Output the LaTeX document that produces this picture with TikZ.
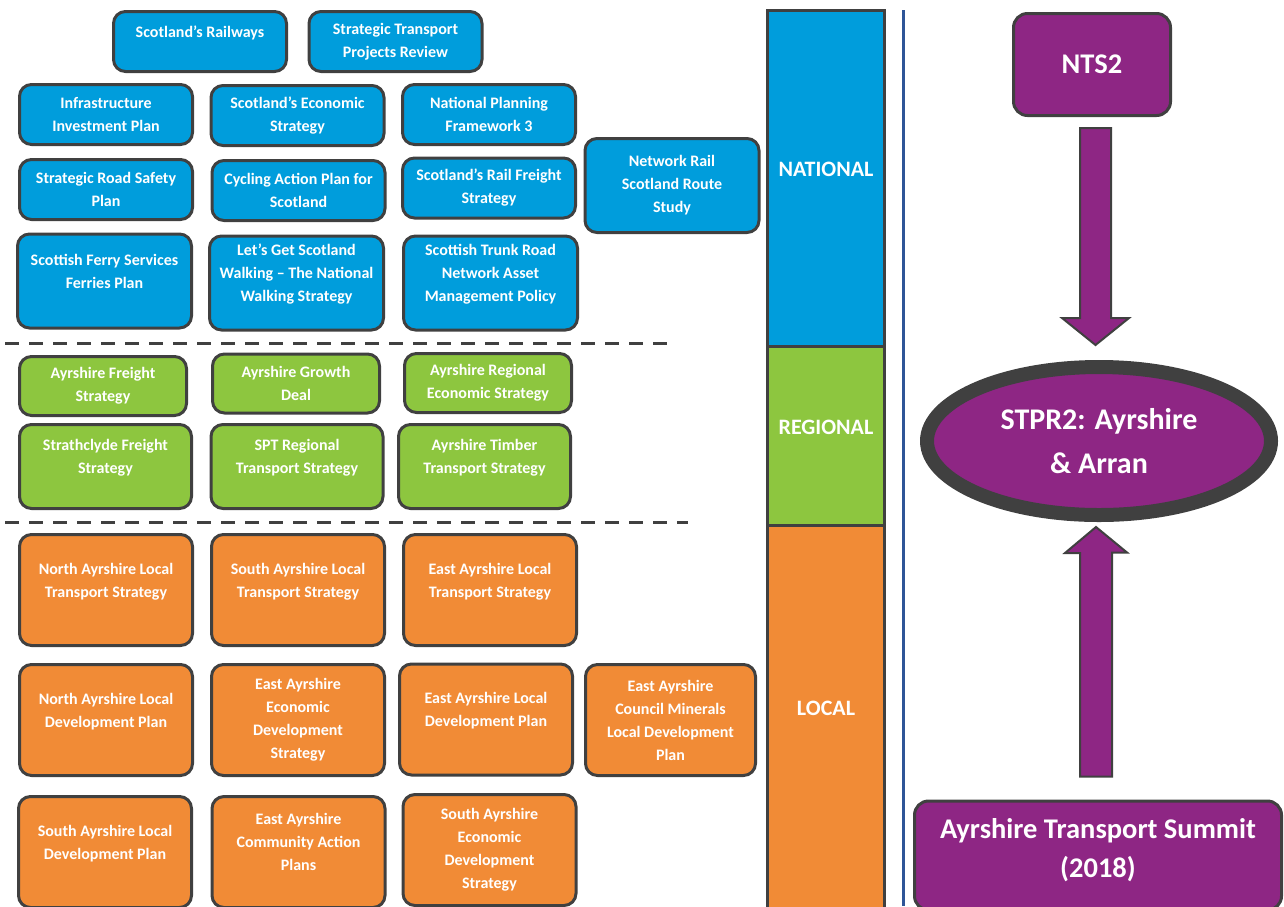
\documentclass[tikz,border=0pt]{standalone}
\usepackage{fontspec}
\setmainfont{Carlito}
\usepackage{tikz}
\usetikzlibrary{calc, shapes.geometric}

\definecolor{natblue}{RGB}{0,157,220}
\definecolor{reggreen}{RGB}{141,198,63}
\definecolor{locorange}{RGB}{241,139,54}
\definecolor{stprpurple}{RGB}{142,38,132}
\definecolor{edgegray}{RGB}{64,64,64}
\definecolor{splitblue}{RGB}{47,85,151}

\begin{document}
\begin{tikzpicture}[x=1pt, y=-1pt,
      plan/.style={rectangle, draw=edgegray, line width=3pt, rounded corners=12pt, text=white, align=center, inner sep=2pt,
        font=\bfseries\fontsize{16}{23}\selectfont},
      natbox/.style={plan, fill=natblue, minimum width=173pt, minimum height=60pt},
      natbig/.style={plan, fill=natblue, minimum width=174pt, minimum height=94pt},
      regbox/.style={plan, fill=reggreen, minimum width=167pt, minimum height=59pt},
      regbig/.style={plan, fill=reggreen, minimum width=172pt, minimum height=84pt},
      locbox/.style={plan, fill=locorange, minimum width=173pt, minimum height=111pt},
      raised/.style={text depth=20pt},
      level/.style={rectangle, draw=edgegray, line width=3pt, text=white, minimum width=117pt, inner sep=0pt,
        font=\bfseries\fontsize{22}{26}\selectfont},
      stpr/.style={draw=edgegray, line width=3pt, fill=stprpurple, text=white, align=center,
        font=\bfseries\fontsize{28.5}{39}\selectfont},
      fatarrow/.style={draw=edgegray, line width=2pt, fill=stprpurple, line join=miter},
      split/.style={draw=edgegray, line width=3pt, dash pattern=on 14pt off 10pt}]

      \useasboundingbox (0,0) rectangle (1284,906);
      \clip (0,0) rectangle (1284,906);

      % National
      \node[natbox, raised] (rail) at (200,41.5) {Scotland’s Railways};
      \node[natbox] (stpr) at (395.5,41.5) {Strategic Transport\\Projects Review};
      \node[natbox] (iip) at (106,114.5) {Infrastructure\\Investment Plan};
      \node[natbox] (ses) at (297.5,115.5) {Scotland’s Economic\\Strategy};
      \node[natbox] (npf) at (489,114.5) {National Planning\\Framework 3};
      \node[natbox] (srsp) at (106,189.5) {Strategic Road Safety\\Plan};
      \node[natbox] (cap) at (298.5,190.5) {Cycling Action Plan for\\Scotland};
      \node[natbox] (srfs) at (489,188) {Scotland’s Rail Freight\\Strategy};
      \node[natbig] (nrsrs) at (672,185.5) {Network Rail\\Scotland Route\\Study};
      \node[natbig, raised] (ferry) at (104.5,281) {Scottish Ferry Services\\Ferries Plan};
      \node[natbig, raised] (walk) at (296.5,283) {Let’s Get Scotland\\Walking – The National\\Walking Strategy};
      \node[natbig, raised] (trunk) at (490.5,283) {Scottish Trunk Road\\Network Asset\\Management Policy};

      \draw[split] (5,343) -- (675,343);

      % Regional
      \node[regbox] (afs) at (103,386) {Ayrshire Freight\\Strategy};
      \node[regbox] (agd) at (296,383.5) {Ayrshire Growth\\Deal};
      \node[regbox] (ares) at (488,383) {Ayrshire Regional\\Economic Strategy};
      \node[regbig, raised] (scfs) at (105.5,466.5) {Strathclyde Freight\\Strategy};
      \node[regbig, raised] (sptrts) at (297,466.5) {SPT Regional\\Transport Strategy};
      \node[regbig, raised] (atts) at (484.5,466.5) {Ayrshire Timber\\Transport Strategy};

      \draw[split] (5,522) -- (688,522);

      % Local
      \node[locbox, raised] (nalts) at (106,590) {North Ayrshire Local\\Transport Strategy};
      \node[locbox, raised] (salts) at (298,590) {South Ayrshire Local\\Transport Strategy};
      \node[locbox, raised] (ealts) at (490,590) {East Ayrshire Local\\Transport Strategy};
      \node[locbox, raised] (naldp) at (106,720) {North Ayrshire Local\\Development Plan};
      \node[locbox] (eaeds) at (298,720) {East Ayrshire\\Economic\\Development\\Strategy};
      \node[locbox, raised] (ealdp) at (486,719.5) {East Ayrshire Local\\Development Plan};
      \node[locbox, minimum width=170pt] (eacm) at (670.5,720) {East Ayrshire\\Council Minerals\\Local Development\\Plan};
      \node[locbox, raised] (saldp) at (105,852) {South Ayrshire Local\\Development Plan};
      \node[locbox, raised] (eacap) at (298.5,852) {East Ayrshire\\Community Action\\Plans};
      \node[locbox] (saeds) at (489.5,850) {South Ayrshire\\Economic\\Development\\Strategy};

      % Levels
      \node[level, fill=natblue, minimum height=336pt, text depth=18pt] (national) at (826,178) {NATIONAL};
      \node[level, fill=reggreen, minimum height=179pt, text depth=16pt] (regional) at (826,435.5) {REGIONAL};
      \node[level, fill=locorange, minimum height=385pt, text depth=18pt] (local) at (826,717.5) {LOCAL};

      \draw[splitblue, line width=3pt] (903,10) -- (903,906);

      % STPR2
      \node[stpr, rectangle, rounded corners=14pt, minimum width=157pt, minimum height=102pt] (nts) at (1092,64.5) {NTS2};
      \node[stpr, ellipse, line width=14pt, minimum width=344pt, minimum height=148pt, inner sep=0pt,
        font=\bfseries\fontsize{30}{44}\selectfont, text depth=-8pt] (stpr2) at (1099,441) {STPR2: Ayrshire\\\& Arran};
      \node[stpr, rectangle, rounded corners=14pt, minimum width=367pt, minimum height=109pt, text depth=16pt] (summit) at (1098,855.5) {Ayrshire Transport Summit\\(2018)};

      % Arrows
      \draw[fatarrow] ($(nts.south)+(-12,11)$) -- ++(31,0) -- ++(0,190) -- ++(18,0)
        -- ($(stpr2.north)+(-3.5,-15)$) -- ++(-33.5,-27) -- ++(18,0) -- cycle;
      \draw[fatarrow] ($(summit.north)+(-18,-23)$) -- ++(32,0) -- ++(0,-224) -- ++(15,0)
        -- ($(stpr2.south)+(-3,5)$) -- ++(-31,26) -- ++(15,0) -- cycle;
    \end{tikzpicture}
\end{document}
